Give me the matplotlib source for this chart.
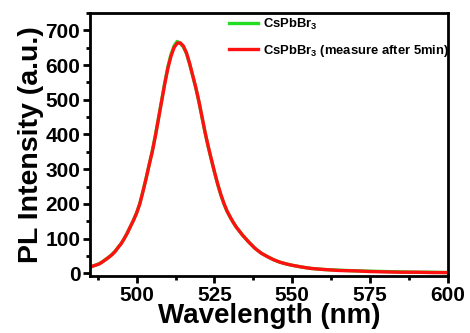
import matplotlib
matplotlib.use("Agg")
import matplotlib.pyplot as plt
from matplotlib.ticker import MultipleLocator

plt.rcParams['font.family'] = ['Liberation Sans', 'DejaVu Sans']
plt.rcParams['font.weight'] = 'bold'
plt.rcParams['mathtext.fontset'] = 'custom'
plt.rcParams['mathtext.rm'] = 'Liberation Sans:bold'
plt.rcParams['mathtext.bf'] = 'Liberation Sans:bold'
plt.rcParams['mathtext.default'] = 'bf'

# wavelengths (nm) and PL intensity
wavelength = [485, 486, 487, 488, 489, 490, 491, 492, 493, 494, 495, 496, 497, 498,
              499, 500, 501, 502, 503, 504, 505, 506, 507, 508, 509, 510, 511, 512,
              513, 514, 515, 516, 517, 518, 519, 520, 521, 522, 523, 524, 525, 526,
              527, 528, 529, 530, 531, 532, 534, 536, 538, 540, 542, 544, 546, 548,
              550, 553, 556, 560, 565, 570, 575, 580, 585, 590, 595, 600]
fresh = [17, 21, 24, 28, 33, 40, 46, 54, 63, 74, 86, 100, 117, 135,
         154, 175, 201, 236, 273, 313, 352, 397, 447, 497, 548, 594, 630, 655,
         668, 662, 652, 633, 603, 569, 534, 494, 449, 404, 364, 327, 291, 257,
         227, 201, 179, 162, 147, 133, 110, 90, 72, 58, 48, 39, 32, 27,
         23, 18, 14, 11, 9, 7, 6, 5, 4, 3, 3, 2]
after_5min = [18, 21, 24, 27, 33, 39, 46, 53, 62, 74, 85, 100, 116, 135,
              153, 174, 200, 235, 272, 312, 350, 395, 445, 495, 545, 590, 625, 650,
              663, 664, 655, 635, 605, 570, 535, 495, 450, 405, 365, 328, 292, 258,
              228, 202, 180, 163, 147, 133, 110, 90, 72, 58, 48, 39, 32, 27,
              23, 18, 14, 11, 8, 7, 5, 4, 3, 3, 2, 2]

labels = ['CsPbBr$_3$', 'CsPbBr$_3$ (measure after 5min)']

fig = plt.figure(figsize=(4.7, 3.33), dpi=100)
ax = fig.add_axes([0.1915, 0.171, 0.7615, 0.79])

ax.plot(wavelength, fresh, color='#22dd22', lw=2.4, label=labels[0])
ax.plot(wavelength, after_5min, color='#ff1111', lw=2.4, label=labels[1])

ax.set_xlim(485, 600)
ax.set_ylim(-8, 750)
ax.xaxis.set_major_locator(MultipleLocator(25))
ax.xaxis.set_minor_locator(MultipleLocator(12.5))
ax.yaxis.set_major_locator(MultipleLocator(100))
ax.yaxis.set_minor_locator(MultipleLocator(50))

for s in ax.spines.values():
    s.set_linewidth(2)
ax.tick_params(which='major', direction='out', length=5, width=2, labelsize=15, pad=2)
ax.tick_params(which='minor', direction='out', length=3, width=2)

ax.set_xlabel('Wavelength (nm)', fontsize=20, fontweight='bold', labelpad=-1)
ax.set_ylabel('PL Intensity (a.u.)', fontsize=20.5, fontweight='bold', labelpad=1)

ax.legend(loc='upper left', bbox_to_anchor=(0.355, 1.03), frameon=False,
          fontsize=9.4, handlelength=2.2, handletextpad=0.4, labelspacing=0.85)

fig.savefig('out.png', dpi=100)
